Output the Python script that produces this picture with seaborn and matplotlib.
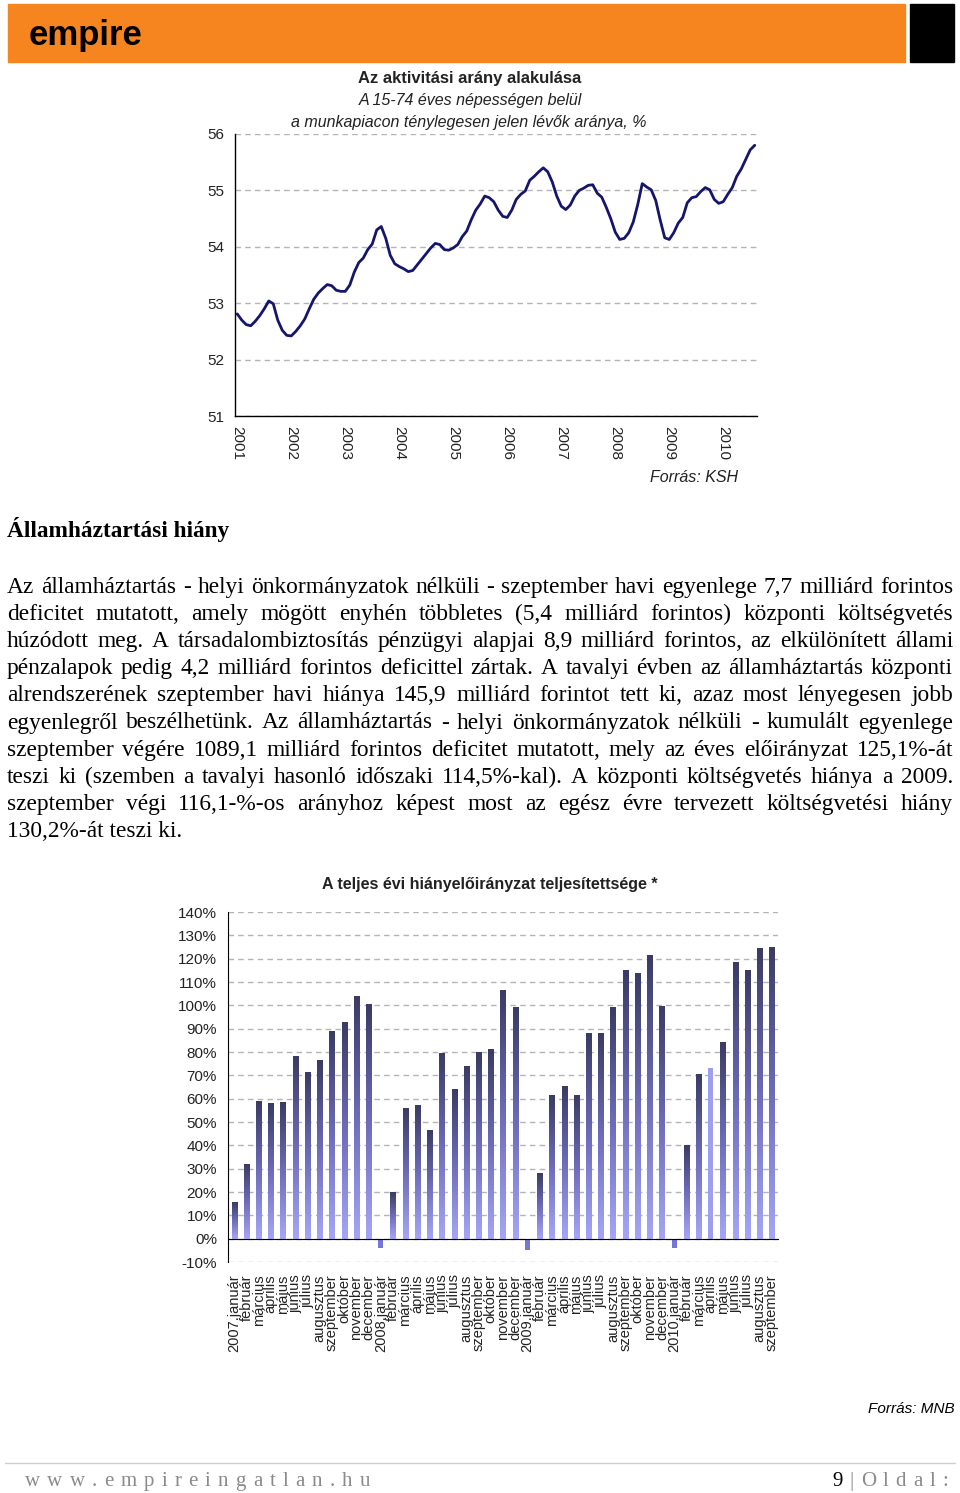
import matplotlib
matplotlib.use("Agg")
import matplotlib.pyplot as plt
import matplotlib.patches as mpatches
from matplotlib.lines import Line2D
from matplotlib.colors import LinearSegmentedColormap
import seaborn as sns
import pandas as pd
import numpy as np

W, H = 960, 1493

# --- aktivitási arány (havi, 2001 január-tól), % ---
activity_start = "2001-01"
activity = [
    52.81, 52.70, 52.62, 52.60, 52.68, 52.78, 52.90, 53.04, 52.99, 52.70, 52.52, 52.43,
    52.42, 52.50, 52.60, 52.72, 52.90, 53.07, 53.18, 53.26, 53.33, 53.31, 53.23, 53.21,
    53.21, 53.32, 53.55, 53.72, 53.80, 53.95, 54.05, 54.30, 54.36, 54.15, 53.85, 53.70,
    53.65, 53.61, 53.56, 53.58, 53.68, 53.78, 53.88, 53.98, 54.06, 54.04, 53.95, 53.94,
    53.98, 54.04, 54.18, 54.28, 54.48, 54.65, 54.76, 54.90, 54.87, 54.80, 54.65, 54.54,
    54.52, 54.65, 54.84, 54.93, 54.99, 55.18, 55.25, 55.33, 55.40, 55.33, 55.15, 54.90,
    54.72, 54.66, 54.74, 54.90, 55.00, 55.04, 55.09, 55.10, 54.95, 54.88, 54.70, 54.50,
    54.26, 54.13, 54.15, 54.25, 54.44, 54.75, 55.12, 55.06, 55.01, 54.82, 54.47, 54.16,
    54.13, 54.25, 54.42, 54.52, 54.78, 54.87, 54.89, 54.98, 55.05, 55.01, 54.84, 54.77,
    54.80, 54.93, 55.05, 55.25, 55.38, 55.55, 55.72, 55.80,
]

# --- hiányelőirányzat teljesítettsége, % ---
month_names = ["január", "február", "március", "április", "május", "június",
               "július", "augusztus", "szeptember", "október", "november", "december"]
deficit_years = [2007, 2008, 2009, 2010]
deficit = [
    15.6, 32.0, 59.1, 57.9, 58.6, 78.1, 71.3, 76.3, 88.9, 92.7, 104.1, 100.4,
    -4.0, 19.9, 56.1, 57.4, 46.7, 79.6, 63.9, 73.9, 80.0, 81.4, 106.7, 99.1,
    -4.7, 28.1, 61.7, 65.3, 61.7, 88.1, 88.1, 99.1, 115.0, 113.6, 121.7, 99.6,
    -4.0, 40.0, 70.3, 73.1, 84.3, 118.6, 115.0, 124.3, 125.1,
]
solid_idx = 39  # világos, egyszínű oszlop

heading = "Államháztartási hiány"
paragraph = [
    "Az államháztartás - helyi önkormányzatok nélküli - szeptember havi egyenlege 7,7 milliárd forintos",
    "deficitet mutatott, amely mögött enyhén többletes (5,4 milliárd forintos) központi költségvetés",
    "húzódott meg. A társadalombiztosítás pénzügyi alapjai 8,9 milliárd forintos, az elkülönített állami",
    "pénzalapok pedig 4,2 milliárd forintos deficittel zártak. A tavalyi évben az államháztartás központi",
    "alrendszerének szeptember havi hiánya 145,9 milliárd forintot tett ki, azaz most lényegesen jobb",
    "egyenlegről beszélhetünk. Az államháztartás - helyi önkormányzatok nélküli - kumulált egyenlege",
    "szeptember végére 1089,1 milliárd forintos deficitet mutatott, mely az éves előirányzat 125,1%-át",
    "teszi ki (szemben a tavalyi hasonló időszaki 114,5%-kal). A központi költségvetés hiánya a 2009.",
    "szeptember végi 116,1-%-os arányhoz képest most az egész évre tervezett költségvetési hiány",
    "130,2%-át teszi ki.",
]

sns.set_style("white")
plt.rcParams["font.family"] = ["Liberation Sans", "DejaVu Sans"]
SERIF = ["Liberation Serif", "DejaVu Serif"]

fig = plt.figure(figsize=(W / 100, H / 100), dpi=100)
renderer = fig.canvas.get_renderer()


def fx(x):
    return x / W


def fy(y):
    return 1 - y / H


def justify(words, x0, x1, y, **kw):
    # sorkizárt sor: szavak egyenként, egyenlő közökkel
    texts = [fig.text(0, 0, w, ha="left", va="baseline", **kw) for w in words]
    widths = [t.get_window_extent(renderer).width for t in texts]
    gap = (x1 - x0 - sum(widths)) / max(len(words) - 1, 1)
    x = x0
    for t, w in zip(texts, widths):
        t.set_position((fx(x), fy(y)))
        x += w + gap
    return texts


# fejléc
fig.add_artist(mpatches.Rectangle((fx(8), fy(62)), 897 / W, 58 / H,
                                  transform=fig.transFigure, color="#f6851f", zorder=0))
fig.add_artist(mpatches.Rectangle((fx(910), fy(62)), 44 / W, 58 / H,
                                  transform=fig.transFigure, color="black", zorder=0))
fig.text(fx(29), fy(35), "empire", fontsize=25, fontweight="bold", color="black",
         ha="left", va="center")

# --- felső diagram ---
act = pd.DataFrame({"month": pd.date_range(activity_start, periods=len(activity), freq="MS"),
                    "rate": activity})
act["idx"] = np.arange(len(act))

ax1 = fig.add_axes([fx(235), fy(416), 522 / W, 282 / H])
sns.lineplot(data=act, x="idx", y="rate", ax=ax1, color="#15156c", lw=2.0)
ax1.set_xlim(-0.5, len(act) - 0.5)
ax1.set_ylim(51, 56)
ax1.set_yticks(range(51, 57))
year_pos = act.index[act["month"].dt.month == 1]
ax1.set_xticks(year_pos, labels=act.loc[year_pos, "month"].dt.year.astype(str), rotation=-90)
ax1.set_xticks(act["idx"], minor=True)
ax1.tick_params(axis="x", which="both", direction="out", length=4, width=1, pad=3,
                labelsize=11, labelcolor="#222222")
ax1.tick_params(axis="y", direction="out", length=4, width=1, pad=4,
                labelsize=11, labelcolor="#222222")
ax1.grid(axis="y", color="#b4b4b4", lw=1, ls=(0, (4, 3)))
ax1.set_axisbelow(True)
ax1.set_xlabel("")
ax1.set_ylabel("")
for s in ["top", "right"]:
    ax1.spines[s].set_visible(False)
for s in ["left", "bottom"]:
    ax1.spines[s].set_color("black")
    ax1.spines[s].set_linewidth(1)

fig.text(fx(470), fy(78), "Az aktivitási arány alakulása", fontsize=12, fontweight="bold",
         color="#222222", ha="center", va="center")
fig.text(fx(470), fy(100), "A 15-74 éves népességen belül", fontsize=11.5, style="italic",
         color="#222222", ha="center", va="center")
fig.text(fx(469), fy(122), "a munkapiacon ténylegesen jelen lévők aránya, %", fontsize=11.5,
         style="italic", color="#222222", ha="center", va="center")
fig.text(fx(694), fy(477), "Forrás: KSH", fontsize=11.5, style="italic", color="#222222",
         ha="center", va="center")

# --- szöveg ---
fig.text(fx(7), fy(537), heading, fontsize=16.8, fontweight="bold", family=SERIF,
         ha="left", va="baseline", color="black")
for i, line in enumerate(paragraph):
    base = 593 + 27.1 * i
    if i < len(paragraph) - 1:
        justify(line.split(" "), 7, 953, base, fontsize=16.8, family=SERIF, color="black")
    else:
        fig.text(fx(7), fy(base), line, fontsize=16.8, family=SERIF, color="black",
                 ha="left", va="baseline")

# --- alsó diagram ---
labels = []
for y in deficit_years:
    for i, m in enumerate(month_names):
        labels.append(f"{y}.{m}" if i == 0 else m)
labels = labels[:len(deficit)]
dfd = pd.DataFrame({"idx": np.arange(len(deficit)), "pct": deficit, "label": labels})

ax2 = fig.add_axes([fx(228), fy(1262), 550 / W, 350 / H])
sns.barplot(data=dfd, x="idx", y="pct", ax=ax2, color="#8080e0", width=0.42,
            saturation=1, zorder=2)

cmap = LinearSegmentedColormap.from_list("bar", ["#a6a6f8", "#6c6cba", "#3b3b64"])
grad = np.linspace(0, 1, 256).reshape(-1, 1)
for i, patch in enumerate(ax2.patches):
    x0, w = patch.get_x(), patch.get_width()
    y0, h = patch.get_y(), patch.get_height()
    patch.set_edgecolor("none")
    if h < 0:
        patch.set_facecolor("#7676d6")
        continue
    if i == solid_idx:
        patch.set_facecolor("#9e9ef2")
        continue
    ax2.imshow(grad, cmap=cmap, extent=[x0, x0 + w, y0, y0 + h], origin="lower",
               aspect="auto", interpolation="bilinear", zorder=3)

ax2.set_xlim(-0.5, len(deficit) - 0.5)
ax2.set_ylim(-10, 140)
yt = list(range(-10, 141, 10))
ax2.set_yticks(yt, labels=[f"{v}%" for v in yt])
ax2.tick_params(axis="y", direction="out", length=4, width=1, pad=4,
                labelsize=11, labelcolor="#222222")
ax2.grid(axis="y", color="#b4b4b4", lw=1, ls=(0, (4, 3)))
ax2.set_axisbelow(True)
ax2.set_xlabel("")
ax2.set_ylabel("")
for s in ["top", "right"]:
    ax2.spines[s].set_visible(False)
ax2.spines["left"].set_color("black")
ax2.spines["bottom"].set_color("black")
ax2.spines["bottom"].set_position(("data", 0))
ax2.spines["bottom"].set_zorder(4)
ax2.set_xticks(np.arange(-0.5, len(deficit), 1))
ax2.set_xticklabels([])
ax2.tick_params(axis="x", direction="out", length=5, width=1.2)

sec = ax2.secondary_xaxis("bottom")
sec.set_xticks(dfd["idx"], labels=dfd["label"], rotation=90, fontsize=10.5, color="#222222")
sec.tick_params(length=0, pad=9)
sec.spines["bottom"].set_visible(False)

fig.text(fx(490), fy(885), "A teljes évi hiányelőirányzat teljesítettsége *", fontsize=11.5,
         fontweight="bold", color="#222222", ha="center", va="center")
fig.text(fx(955), fy(1409), "Forrás: MNB", fontsize=11,
         family=["Liberation Sans Narrow", "Liberation Sans"], style="italic",
         color="black", ha="right", va="center")

# --- lábléc ---
fig.add_artist(Line2D([fx(5), fx(955)], [fy(1463), fy(1463)], transform=fig.transFigure,
                      color="#cfcfcf", lw=1))
justify(list("www.empireingatlan.hu"), 25, 370, 1486, fontsize=15, family=SERIF,
        color="#8a8a8a")
foot = justify(list("9|Oldal:"), 832, 948, 1486, fontsize=15, family=SERIF, color="#8a8a8a")
foot[0].set_color("black")

fig.savefig("out.png", dpi=100)
